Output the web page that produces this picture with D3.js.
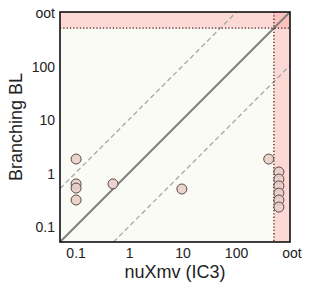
<!DOCTYPE html>
<html lang="en">
<head>
    <meta charset="UTF-8">
    <title>nuXmv vs Branching BL</title>
    <style>
        body { margin: 0; background: #fff; }
        text { font-family: "Liberation Sans", Arial, sans-serif; fill: #222; }
    </style>
</head>
<body>
    <div class="canvas"></div>
    <script src="https://d3js.org/d3.v7.min.js"></script>
    <script>
        // timeout value and where "oot" points are drawn
        const timeout = 500;
        const ootPos = 620;

        const tickValues = [0.1, 1, 10, 100, 1000];
        const tickLabels = ['0.1', '1', '10', '100', 'oot'];

        // solved runs: x = nuXmv (IC3), y = Branching BL
        const xSolved = [0.1, 0.1, 0.1, 0.1, 0.49, 9.5, 400];
        const ySolved = [1.78, 0.61, 0.51, 0.305, 0.61, 0.49, 1.78];

        // nuXmv out of time
        const yOot = [1.02, 0.75, 0.56, 0.41, 0.305, 0.225];

        const dims = { width: 309, height: 290 };
        const margin = { left: 60, top: 12, right: 19, bottom: 48 };
        const w = dims.width - margin.left - margin.right;
        const h = dims.height - margin.top - margin.bottom;

        const svg = d3.select('.canvas')
            .append('svg')
            .attr('width', dims.width)
            .attr('height', dims.height);

        const graph = svg.append('g')
            .attr('transform', `translate(${margin.left},${margin.top})`);

        const x = d3.scaleLog().domain([0.05, 1000]).range([0, w]);
        const y = d3.scaleLog().domain([0.05, 1000]).range([h, 0]);

        graph.append('rect')
            .attr('width', w).attr('height', h)
            .attr('fill', '#fbfbf5');

        // timeout bands
        graph.append('rect')
            .attr('x', 0).attr('y', 0)
            .attr('width', w).attr('height', y(timeout))
            .attr('fill', '#ff8c8c').attr('fill-opacity', 0.3);
        graph.append('rect')
            .attr('x', x(timeout)).attr('y', 0)
            .attr('width', w - x(timeout)).attr('height', h)
            .attr('fill', '#ff8c8c').attr('fill-opacity', 0.3);

        // reference lines
        const lines = [
            { f: 1, x0: 0.05, x1: 1000, dash: null, col: '#7f7f7f', sw: 2 },
            { f: 10, x0: 0.05, x1: 100, dash: '5,3', col: '#a9a9a9', sw: 1.3 },
            { f: 0.1, x0: 0.5, x1: 1000, dash: '5,3', col: '#a9a9a9', sw: 1.3 }
        ];
        lines.forEach(l => {
            graph.append('line')
                .attr('x1', x(l.x0)).attr('y1', y(l.x0 * l.f))
                .attr('x2', x(l.x1)).attr('y2', y(l.x1 * l.f))
                .attr('stroke', l.col)
                .attr('stroke-width', l.sw)
                .attr('stroke-dasharray', l.dash);
        });

        // timeout dotted lines
        graph.append('line')
            .attr('x1', 0).attr('x2', w)
            .attr('y1', y(timeout)).attr('y2', y(timeout))
            .attr('stroke', '#4a2020').attr('stroke-width', 1.3)
            .attr('stroke-dasharray', '1.3,2');
        graph.append('line')
            .attr('x1', x(timeout)).attr('x2', x(timeout))
            .attr('y1', 0).attr('y2', h)
            .attr('stroke', '#4a2020').attr('stroke-width', 1.3)
            .attr('stroke-dasharray', '1.3,2');

        const points = xSolved.map((v, i) => ({ x: v, y: ySolved[i] }))
            .concat(yOot.map(v => ({ x: ootPos, y: v })));

        graph.selectAll('circle')
            .data(points)
            .enter()
            .append('circle')
            .attr('cx', d => x(d.x))
            .attr('cy', d => y(d.y))
            .attr('r', 5)
            .attr('fill', '#e8cfc8')
            .attr('fill-opacity', 0.9)
            .attr('stroke', '#5c4a4a')
            .attr('stroke-width', 1);

        // frame
        graph.append('rect')
            .attr('width', w).attr('height', h)
            .attr('fill', 'none')
            .attr('stroke', '#111')
            .attr('stroke-width', 1.6);

        // tick labels
        graph.selectAll('.xt')
            .data(tickValues)
            .enter()
            .append('text')
            .attr('x', d => x(d) + (d === 1000 ? 2 : 0))
            .attr('y', h + 16)
            .attr('text-anchor', 'middle')
            .attr('font-size', 14)
            .text((d, i) => tickLabels[i]);

        graph.selectAll('.yt')
            .data(tickValues)
            .enter()
            .append('text')
            .attr('x', -5)
            .attr('y', d => y(d))
            .attr('dy', '0.45em')
            .attr('text-anchor', 'end')
            .attr('font-size', 14)
            .text((d, i) => tickLabels[i]);

        // axis titles
        svg.append('text')
            .attr('x', margin.left + w / 2)
            .attr('y', 278)
            .attr('text-anchor', 'middle')
            .attr('font-size', 18)
            .text('nuXmv (IC3)');

        svg.append('text')
            .attr('transform', `translate(22,${margin.top + h / 2}) rotate(-90)`)
            .attr('text-anchor', 'middle')
            .attr('font-size', 18)
            .text('Branching BL');
    </script>
</body>
</html>
